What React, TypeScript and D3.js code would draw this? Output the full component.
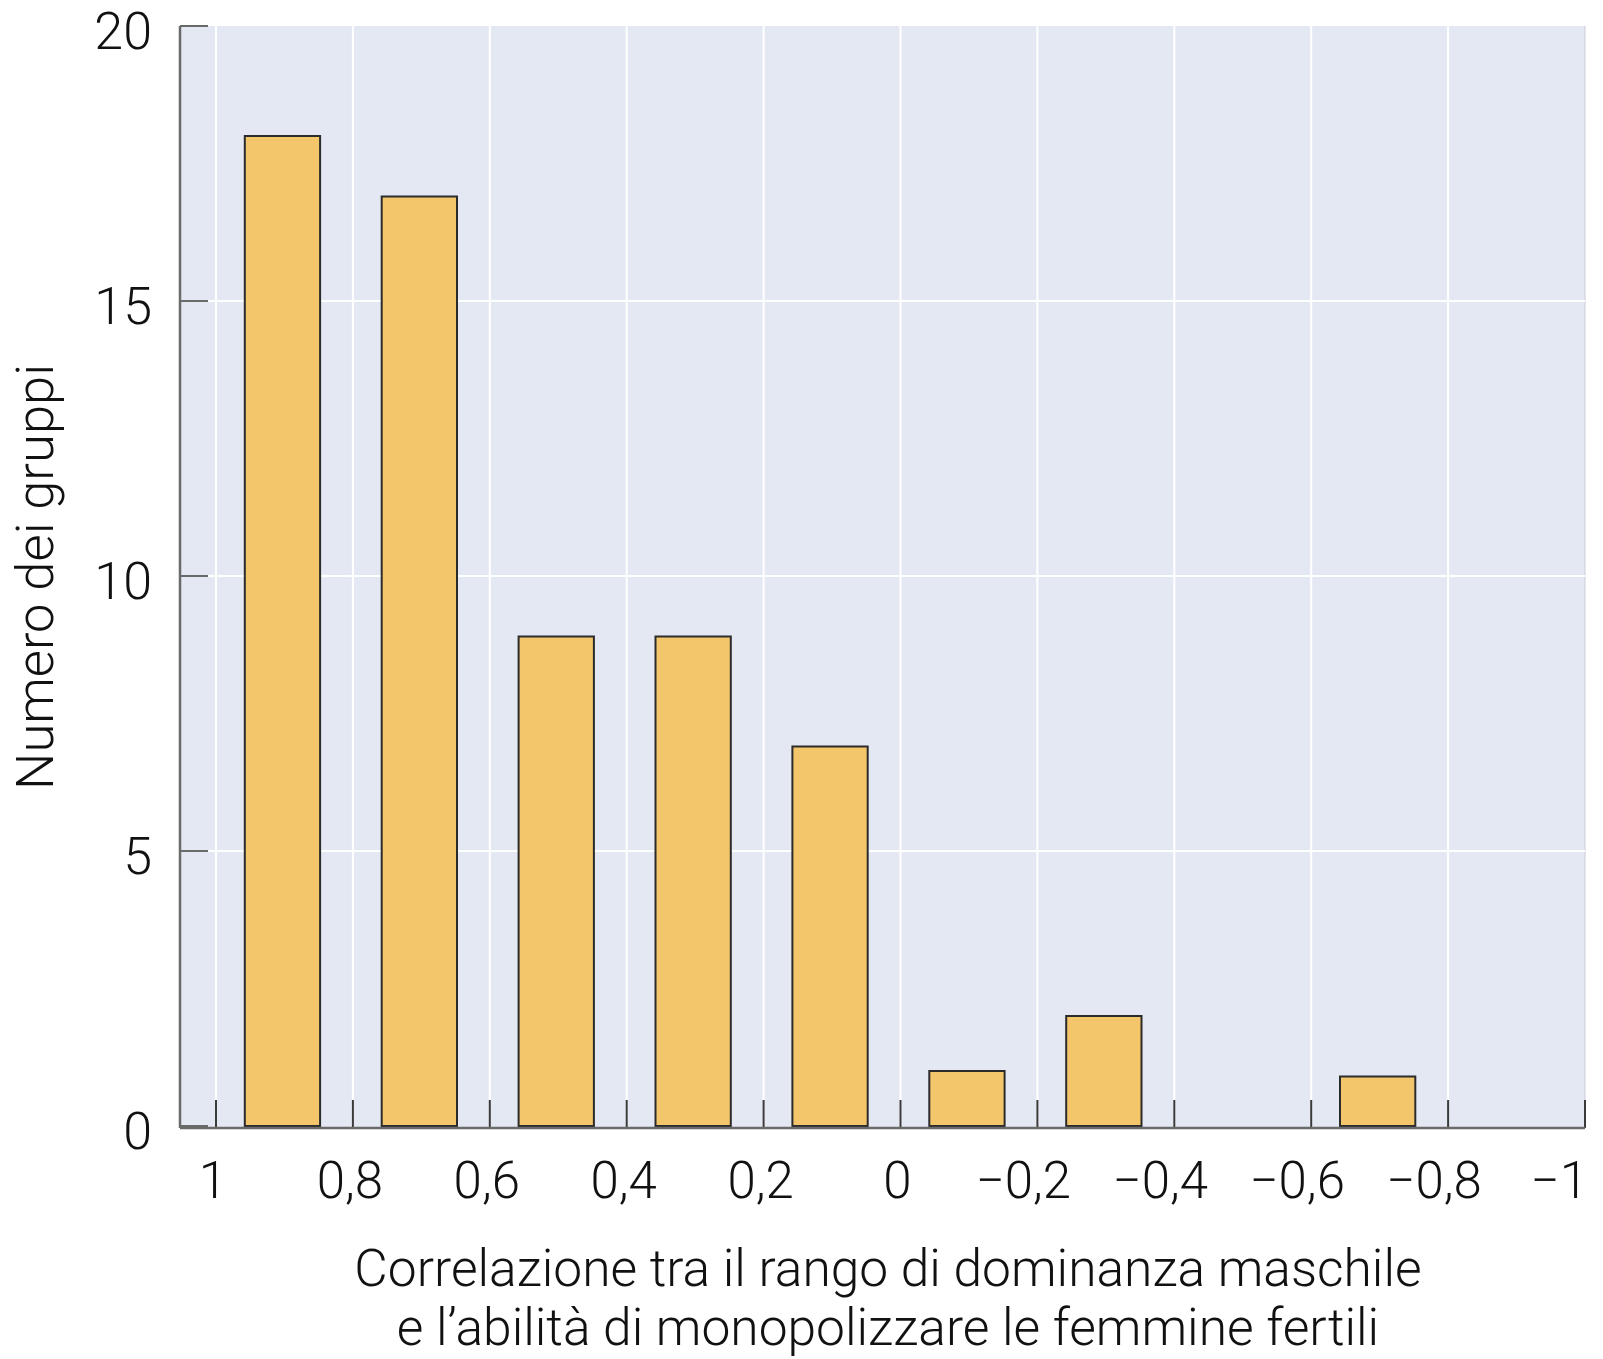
import React from "react";
import * as d3 from "d3";

// Data
const binCenters = [0.9, 0.7, 0.5, 0.3, 0.1, -0.1, -0.3, -0.5, -0.7, -0.9];
const counts = [18, 16.9, 8.9, 8.9, 6.9, 1, 2, 0, 0.9, 0];
const xTicks = [1, 0.8, 0.6, 0.4, 0.2, 0, -0.2, -0.4, -0.6, -0.8, -1];
const yTicks = [0, 5, 10, 15, 20];
const yTitle = "Numero dei gruppi";
const xTitleLines = [
  "Correlazione tra il rango di dominanza maschile",
  "e l\u2019abilità di monopolizzare le femmine fertili",
];

const W = 1603;
const H = 1359;
const FONT = "Roboto, 'Liberation Sans', Arial, sans-serif";

export default function App() {
  const x = d3.scaleLinear().domain([1, -1]).range([216, 1585]);
  const y = d3.scaleLinear().domain([0, 20]).range([1126, 26]);
  const left = 180;
  const right = 1585;
  const top = y(20);
  const bottom = 1128;
  const halfBar = 0.055;

  const fmt = (v: number) => {
    if (v === 0) return "0";
    const s = d3.format("")(Math.abs(v)).replace(".", ",");
    return (v < 0 ? "\u2212" : "") + s;
  };

  return (
    <svg
      width={W}
      height={H}
      style={{ position: "absolute", left: 0, top: 0, background: "#fff" }}
      fontFamily={FONT}
    >
      {/* plot background */}
      <rect x={left} y={top} width={right - left} height={bottom - top} fill="#E4E8F3" />
      <line x1={right} x2={right} y1={top} y2={bottom} stroke="#C9CDD8" strokeWidth={1} />
      {/* horizontal grid */}
      {yTicks
        .filter((t) => t > 0 && t < 20)
        .map((t) => (
          <line key={"hg" + t} x1={left} x2={right} y1={y(t)} y2={y(t)} stroke="#fff" strokeWidth={2} />
        ))}
      {/* vertical grid */}
      {xTicks
        .filter((t) => t !== -1)
        .map((t) => (
          <line key={"vg" + t} x1={x(t)} x2={x(t)} y1={top} y2={bottom} stroke="#fff" strokeWidth={2} />
        ))}
      {/* bars */}
      {binCenters.map((c, i) =>
        counts[i] > 0 ? (
          <rect
            key={"b" + i}
            x={x(c + halfBar) - 2}
            y={y(counts[i])}
            width={x(c - halfBar) - x(c + halfBar)}
            height={y(0) - y(counts[i])}
            fill="#F4C66B"
            stroke="#2B2B2B"
            strokeWidth={2}
          />
        ) : null
      )}
      {/* x ticks */}
      {xTicks.map((t) => (
        <line key={"xt" + t} x1={x(t)} x2={x(t)} y1={bottom} y2={bottom - 28} stroke="#3a3a3a" strokeWidth={2} />
      ))}
      {/* y ticks */}
      {yTicks.map((t) => (
        <line key={"yt" + t} x1={left} x2={left + 28} y1={y(t)} y2={y(t)} stroke="#6a6a6a" strokeWidth={2} />
      ))}
      {/* axes */}
      <line x1={left} x2={left} y1={top} y2={bottom} stroke="#6a6a6a" strokeWidth={2.5} />
      <line x1={left} x2={right} y1={bottom} y2={bottom} stroke="#6a6a6a" strokeWidth={2.5} />
      {/* y tick labels */}
      {yTicks.map((t) => (
        <text
          key={"yl" + t}
          x={152}
          y={y(t) + 23}
          textAnchor="end"
          fontSize={52}
          fontWeight={300}
          fill="#111"
        >
          {fmt(t)}
        </text>
      ))}
      {/* x tick labels */}
      {xTicks.map((t) => (
        <text
          key={"xl" + t}
          x={t === -1 ? x(t) + 3 : t < 0 ? x(t) - 14 : x(t) - 3}
          y={1198}
          textAnchor={t === -1 ? "end" : "middle"}
          fontSize={51}
          fontWeight={300}
          fill="#111"
        >
          {fmt(t)}
        </text>
      ))}
      {/* y title */}
      <text
        transform={`translate(53, ${(top + bottom) / 2}) rotate(-90)`}
        textAnchor="middle"
        fontSize={52.5}
        fontWeight={300}
        fill="#111"
      >
        {yTitle}
      </text>
      {/* x title */}
      {xTitleLines.map((l, i) => (
        <text
          key={"xt" + i}
          x={888}
          y={1286 + i * 59}
          textAnchor="middle"
          fontSize={51.5}
          fontWeight={300}
          fill="#111"
        >
          {l}
        </text>
      ))}
    </svg>
  );
}
